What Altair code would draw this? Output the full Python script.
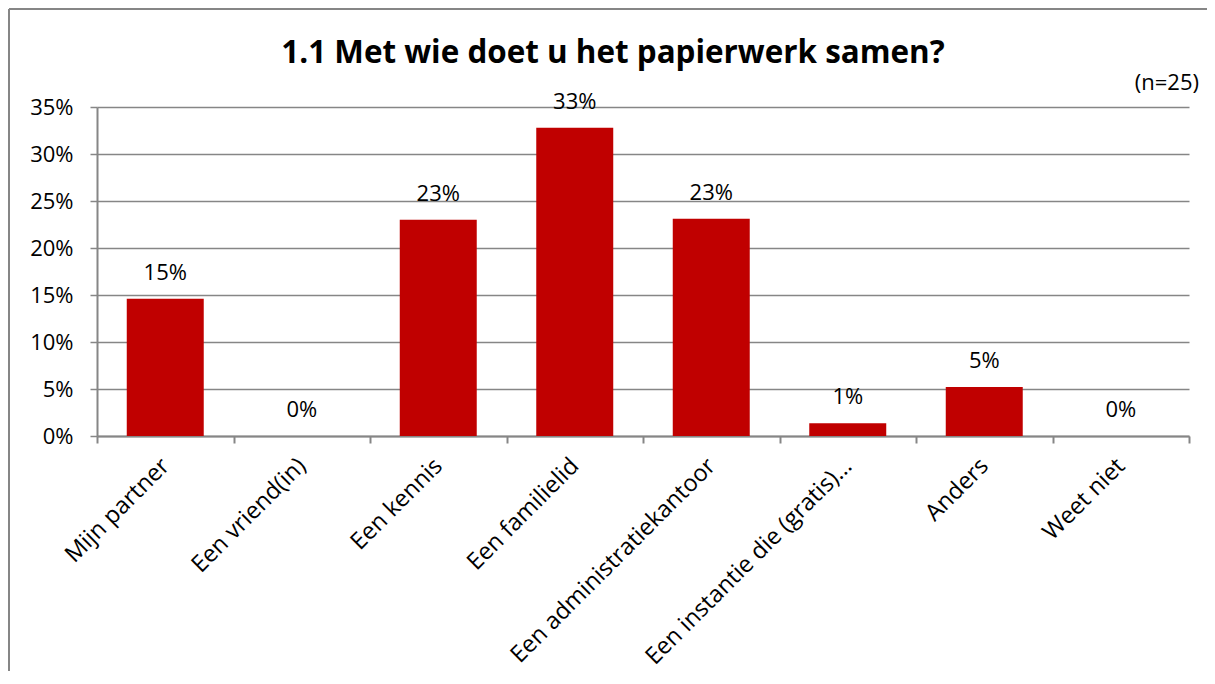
import altair as alt
import pandas as pd

categories = ["Mijn partner", "Een vriend(in)", "Een kennis", "Een familielid",
              "Een administratiekantoor", "Een instantie die (gratis)…", "Anders", "Weet niet"]
values = [0.146, 0.0, 0.230, 0.328, 0.231, 0.0135, 0.052, 0.0]
y_ticks = [0, 0.05, 0.10, 0.15, 0.20, 0.25, 0.30, 0.35]
title_text = "1.1 Met wie doet u het papierwerk samen?"
n_text = "(n=25)"

df = pd.DataFrame({"cat": categories, "val": values})

FONT = "Open Sans"
GRAY = "#868686"
RED = "#C00000"

W, H = 1092, 329

x_enc = alt.X("cat:N", sort=categories,
              scale=alt.Scale(paddingInner=0, paddingOuter=0),
              axis=alt.Axis(title=None, labelAngle=-45, labelAlign="right",
                            labelBaseline="middle", labelFont=FONT, labelFontSize=23.5,
                            labelColor="black", tickBand="extent", tickSize=7,
                            tickColor=GRAY, tickWidth=2, domainColor=GRAY, domainWidth=2,
                            labelPadding=19, grid=False, labelLimit=400))
y_enc = alt.Y("val:Q", scale=alt.Scale(domain=[0, 0.35], nice=False),
              axis=alt.Axis(title=None, values=y_ticks, format=".0%", labelFont=FONT,
                            labelFontSize=22, labelColor="black", grid=True,
                            gridColor=GRAY, gridWidth=1.5, domainColor=GRAY, domainWidth=2,
                            tickColor=GRAY, tickWidth=1.5, tickSize=7, labelPadding=17))

base = alt.Chart(df)
bars = base.mark_bar(color=RED, width=alt.RelativeBandSize(0.564)).encode(x=x_enc, y=y_enc)
labels = base.mark_text(font=FONT, fontSize=22, color="black", dy=-19,
                        baseline="alphabetic").encode(
    x=alt.X("cat:N", sort=categories), y="val:Q",
    text=alt.Text("val:Q", format=".0%"))

one = alt.Chart(pd.DataFrame({"t": [title_text], "n": [n_text]}))
title = one.mark_text(font=FONT, fontSize=31.4, fontWeight="bold", color="black",
                      align="center", baseline="alphabetic").encode(
    x=alt.value(516), y=alt.value(-44), text="t:N")
ntxt = one.mark_text(font=FONT, fontSize=22, color="black", align="right",
                     baseline="alphabetic").encode(
    x=alt.value(1102), y=alt.value(-17), text="n:N")
border_left = one.mark_rule(color=GRAY, strokeWidth=2).encode(
    x=alt.value(-88), y=alt.value(-98), y2=alt.value(700))
border_top = one.mark_rule(color=GRAY, strokeWidth=2).encode(
    x=alt.value(-88), x2=alt.value(1110), y=alt.value(-98))

chart = alt.layer(bars, labels, title, ntxt, border_left, border_top).properties(
    width=W, height=H,
    background="white",
    autosize=alt.AutoSizeParams(type="none"),
    padding={"left": 89, "top": 99, "right": 18, "bottom": 235},
).configure_view(stroke="transparent", strokeWidth=0)

chart.save("out.html", embed_options={"renderer": "svg", "actions": False})
